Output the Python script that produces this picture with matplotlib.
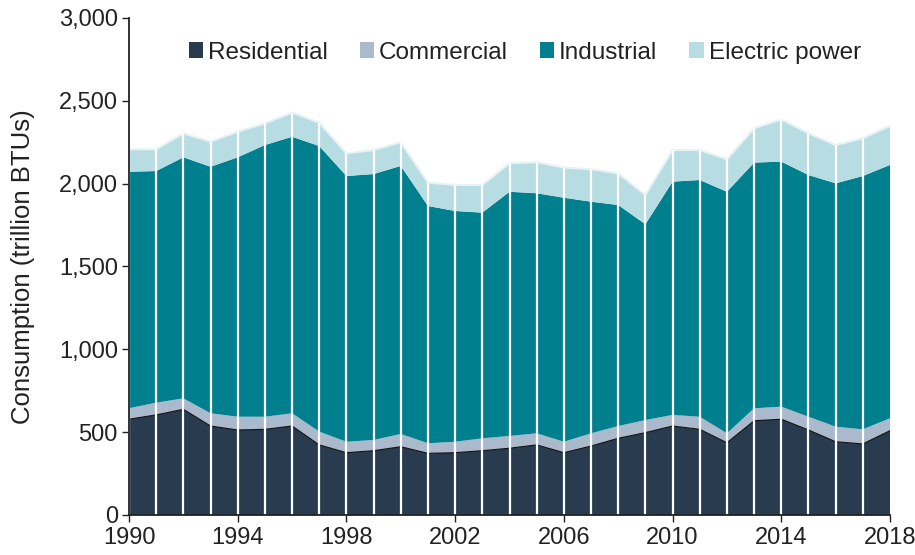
import numpy as np
import matplotlib.pyplot as plt
from matplotlib.patches import Patch
from matplotlib.ticker import FuncFormatter

plt.rcParams['font.family'] = ['Liberation Sans', 'DejaVu Sans']

years = np.arange(1990, 2019)

# natural gas consumption by sector, trillion BTUs
residential = [578, 604, 638, 537, 513, 517, 537, 423, 376, 388, 412, 372, 376, 388, 403,
               423, 376, 416, 463, 497, 537, 517, 436, 569, 578, 513, 442, 429, 509]
commercial = [66, 74, 66, 77, 80, 76, 77, 80, 66, 65, 77, 61, 66, 75, 74,
              70, 66, 77, 74, 76, 67, 76, 57, 75, 76, 80, 91, 88, 75]
industrial = [1428, 1398, 1455, 1488, 1566, 1640, 1669, 1724, 1604, 1605, 1618, 1432, 1393, 1362, 1474,
              1449, 1473, 1398, 1334, 1182, 1408, 1429, 1458, 1483, 1479, 1459, 1469, 1529, 1529]
electric = [135, 131, 145, 151, 155, 131, 146, 141, 137, 145, 143, 141, 157, 167, 172,
            187, 182, 196, 191, 177, 191, 181, 196, 207, 255, 252, 231, 228, 235]

labels = ['Residential', 'Commercial', 'Industrial', 'Electric power']
colors = ['#283b4f', '#aab9cb', '#007f8e', '#b7dce2']

fig = plt.figure(figsize=(9.15, 5.55), dpi=100)
ax = fig.add_axes([0.141, 0.0721, 0.8317, 0.8955])

ax.stackplot(years, residential, commercial, industrial, electric,
             colors=colors, linewidth=0)

total = np.sum([residential, commercial, industrial, electric], axis=0)
ax.plot(years, residential, color='#111111', lw=0.8)
ax.plot(years, total, color='#e6f2f4', lw=1.5)
ax.vlines(years[:-1], 0, total[:-1], color='white', lw=1.6)

ax.set_xlim(1990, 2018)
ax.set_ylim(0, 3000)
ax.set_xticks(np.arange(1990, 2019, 4))
ax.set_yticks(np.arange(0, 3001, 500))
ax.yaxis.set_major_formatter(FuncFormatter(lambda v, p: f'{int(v):,}'))
ax.tick_params(labelsize=17, length=5, width=1, direction='out', colors='#222222')
ax.tick_params(axis='x', pad=4)
ax.tick_params(axis='y', pad=3)
for s in ['top', 'right']:
    ax.spines[s].set_visible(False)
for s in ['left', 'bottom']:
    ax.spines[s].set_linewidth(1.3)
    ax.spines[s].set_color('#222222')

ax.set_ylabel('Consumption (trillion BTUs)', fontsize=18.5, color='#222222', labelpad=17)

handles = [Patch(facecolor=c, edgecolor='none') for c in colors]
ax.legend(handles, labels, loc='center', bbox_to_anchor=(0.52, 0.93), ncol=4,
          frameon=False, fontsize=17.5, handlelength=0.6, handleheight=0.6,
          handletextpad=0.2, columnspacing=1.3, labelcolor='#222222')

fig.savefig('out.png', dpi=100)
